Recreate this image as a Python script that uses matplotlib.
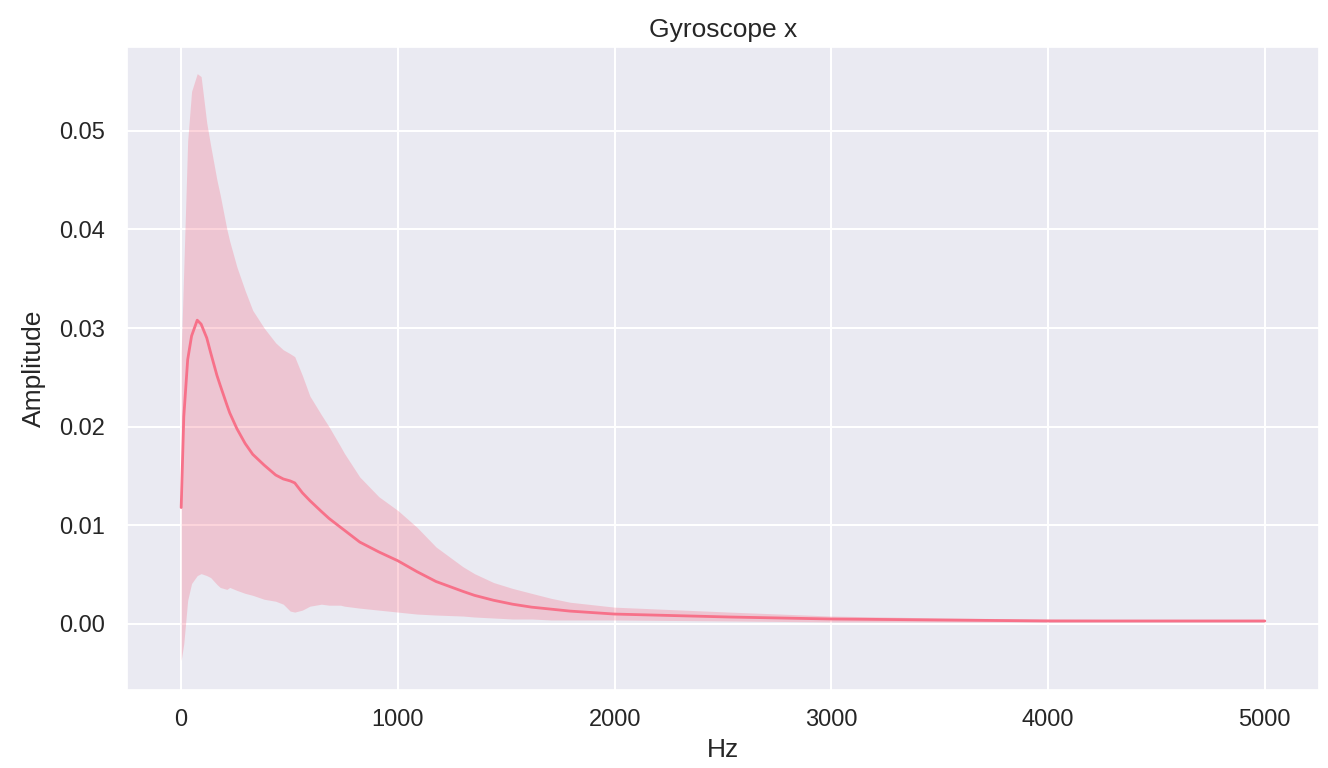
import numpy as np
import matplotlib
matplotlib.use('Agg')
import matplotlib.pyplot as plt
import seaborn as sns

# --- values (Hz, amplitude) ---
freq = [0, 12, 30, 48, 74, 92, 118, 136, 165, 180, 211, 224, 257, 295, 330,
        383, 436, 471, 503, 524, 559, 594, 647, 682, 735, 753, 824, 912, 1000,
        1088, 1176, 1300, 1353, 1441, 1529, 1617, 1706, 1794, 2000, 2531,
        3000, 3500, 4000, 4500, 5000]

mean_amp = [0.0118, 0.0210, 0.0268, 0.0292, 0.0308, 0.0304, 0.0290, 0.0275,
            0.0252, 0.0242, 0.0222, 0.0214, 0.0198, 0.0183, 0.0172, 0.0161,
            0.0151, 0.0147, 0.0145, 0.0143, 0.0133, 0.0125, 0.0114, 0.0107,
            0.0098, 0.0095, 0.0083, 0.0073, 0.0064, 0.0053, 0.0043, 0.0033,
            0.0029, 0.0024, 0.0020, 0.0017, 0.0015, 0.0013, 0.0010, 0.0007,
            0.0005, 0.0004, 0.0003, 0.0003, 0.0003]

upper_amp = [0.0275, 0.0360, 0.0490, 0.0540, 0.0558, 0.0555, 0.0508, 0.0485,
             0.0450, 0.0435, 0.0400, 0.0388, 0.0362, 0.0338, 0.0318, 0.0300,
             0.0285, 0.0278, 0.0274, 0.0271, 0.0252, 0.0231, 0.0212, 0.0200,
             0.0180, 0.0173, 0.0149, 0.0129, 0.0115, 0.0098, 0.0078, 0.0058,
             0.0051, 0.0042, 0.0036, 0.0031, 0.0026, 0.0022, 0.0017, 0.0012,
             0.0008, 0.0006, 0.0005, 0.0004, 0.0004]

lower_amp = [-0.0037, -0.0020, 0.0024, 0.0041, 0.0049, 0.0051, 0.0049, 0.0047,
             0.0040, 0.0037, 0.0035, 0.0037, 0.0034, 0.0031, 0.0029, 0.0025,
             0.0023, 0.0020, 0.0013, 0.0012, 0.0014, 0.0018, 0.0020, 0.0019,
             0.0019, 0.0018, 0.0016, 0.0014, 0.0012, 0.0010, 0.0009, 0.0008,
             0.0007, 0.0006, 0.0005, 0.0005, 0.0004, 0.0004, 0.0004, 0.0003,
             0.0002, 0.0002, 0.0002, 0.0002, 0.0002]

# --- plotting ---
sns.set_theme(style='darkgrid')
plt.rcParams['font.family'] = ['Liberation Sans', 'DejaVu Sans']

line_color = sns.color_palette('husl', 8)[0]

fig = plt.figure(figsize=(13.28, 7.68), dpi=100)
ax = fig.add_axes([127 / 1328, 1 - 690 / 768, 1192 / 1328, 643 / 768])

ax.fill_between(freq, lower_amp, upper_amp, color=line_color, alpha=0.3, linewidth=0)
ax.plot(freq, mean_amp, color=line_color, linewidth=2)

ax.set_xlim(-250, 5250)
ax.set_ylim(-0.0067, 0.0585)
ax.set_xticks([0, 1000, 2000, 3000, 4000, 5000])
ax.set_yticks([0.0, 0.01, 0.02, 0.03, 0.04, 0.05])
ax.set_yticklabels(['0.00', '0.01', '0.02', '0.03', '0.04', '0.05'])
ax.grid(color='white', linewidth=1.5)

ax.set_title('Gyroscope x', fontsize=19, pad=7)
ax.set_xlabel('Hz', fontsize=19, labelpad=5)
ax.set_ylabel('Amplitude', fontsize=19, labelpad=9)
ax.tick_params(axis='both', labelsize=17)
ax.tick_params(axis='y', pad=10)
ax.tick_params(axis='x', pad=8)

fig.savefig('out.png', dpi=100)
